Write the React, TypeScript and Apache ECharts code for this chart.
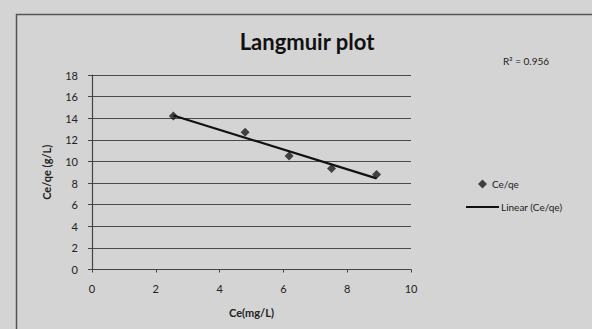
import React, { useEffect, useRef } from "react";
import * as echarts from "echarts";

const ceValues = [2.55, 4.8, 6.18, 7.51, 8.92];
const ceQeValues = [14.2, 12.7, 10.5, 9.35, 8.8];
const xTicks = [0, 2, 4, 6, 8, 10];
const yTicks = [0, 2, 4, 6, 8, 10, 12, 14, 16, 18];
const titleText = "Langmuir plot";
const r2Text = "R² = 0.956";
const seriesName = "Ce/qe";
const trendName = "Linear (Ce/qe)";

function linearFit(xs: number[], ys: number[]) {
  const n = xs.length;
  const mx = xs.reduce((a, b) => a + b, 0) / n;
  const my = ys.reduce((a, b) => a + b, 0) / n;
  let sxy = 0, sxx = 0;
  for (let i = 0; i < n; i++) {
    sxy += (xs[i] - mx) * (ys[i] - my);
    sxx += (xs[i] - mx) * (xs[i] - mx);
  }
  const slope = sxy / sxx;
  return { slope, intercept: my - slope * mx };
}

export default function App() {
  const ref = useRef<HTMLDivElement>(null);
  useEffect(() => {
    if (!ref.current) return;
    const chart = echarts.init(ref.current, null, { renderer: "svg" });
    const fit = linearFit(ceValues, ceQeValues);
    const x0 = Math.min(...ceValues);
    const x1 = Math.max(...ceValues);
    const trend = [
      [x0, fit.intercept + fit.slope * x0],
      [x1, fit.intercept + fit.slope * x1],
    ];
    const font = "Lato, 'Open Sans', sans-serif";
    chart.setOption({
      animation: false,
      backgroundColor: "#d4d4d4",
      textStyle: { fontFamily: font },
      title: {
        text: titleText,
        left: 302,
        textAlign: "center",
        top: 25,
        textStyle: { fontSize: 22, fontWeight: "bold", color: "#111", fontFamily: font },
      },
      grid: { left: 92, right: 181, top: 75, bottom: 59.5 },
      xAxis: {
        type: "value",
        min: xTicks[0],
        max: xTicks[xTicks.length - 1],
        interval: 2,
        name: "Ce(mg/L)",
        nameLocation: "middle",
        nameGap: 37,
        nameTextStyle: { fontSize: 11, color: "#222", fontWeight: "bold" },
        axisLine: { show: true, lineStyle: { color: "#444", width: 1 } },
        axisTick: { show: true, length: 3, lineStyle: { color: "#444" } },
        axisLabel: { fontSize: 11, color: "#222", margin: 13 },
        splitLine: { show: false },
      },
      yAxis: {
        type: "value",
        min: yTicks[0],
        max: yTicks[yTicks.length - 1],
        interval: 2,
        name: "Ce/qe (g/L)",
        nameLocation: "middle",
        nameGap: 40,
        nameTextStyle: { fontSize: 11, color: "#222", fontWeight: "bold" },
        axisLine: { show: true, lineStyle: { color: "#444", width: 1.2 } },
        axisTick: { show: true, length: 4, lineStyle: { color: "#444" } },
        axisLabel: { fontSize: 11, color: "#222", margin: 14 },
        splitLine: { show: true, lineStyle: { color: "#4a4a4a", width: 1.2 } },
      },
      legend: [
        {
          data: [{ name: seriesName, icon: "diamond" }],
          left: 473,
          top: 174,
          itemWidth: 9,
          itemHeight: 9,
          textStyle: { fontSize: 10, color: "#222", fontFamily: font },
        },
        {
          data: [{ name: trendName, icon: "rect" }],
          left: 461,
          top: 197,
          itemWidth: 33,
          itemHeight: 2,
          textStyle: { fontSize: 10, color: "#222", fontFamily: font, padding: [0, 0, 0, -3] },
        },
      ],
      graphic: [
        {
          type: "text",
          left: 503,
          top: 56,
          style: { text: r2Text, fontSize: 10, fill: "#222", fontFamily: font },
        },
        {
          type: "rect",
          left: 14,
          top: 12,
          shape: { width: 600, height: 340 },
          style: { fill: "none", stroke: "#555", lineWidth: 1.5 },
        },
      ],
      series: [
        {
          name: seriesName,
          type: "scatter",
          data: ceValues.map((x, i) => [x, ceQeValues[i]]),
          symbol: "diamond",
          symbolSize: 9,
          itemStyle: { color: "#1a1a1a" },
          z: 3,
        },
        {
          name: trendName,
          type: "line",
          data: trend,
          symbol: "none",
          lineStyle: { color: "#111", width: 2.2 },
          itemStyle: { color: "#111" },
          z: 4,
        },
      ],
    });
    return () => chart.dispose();
  }, []);
  return <div ref={ref} style={{ width: 592, height: 329, position: "fixed", left: 0, top: 0 }} />;
}
